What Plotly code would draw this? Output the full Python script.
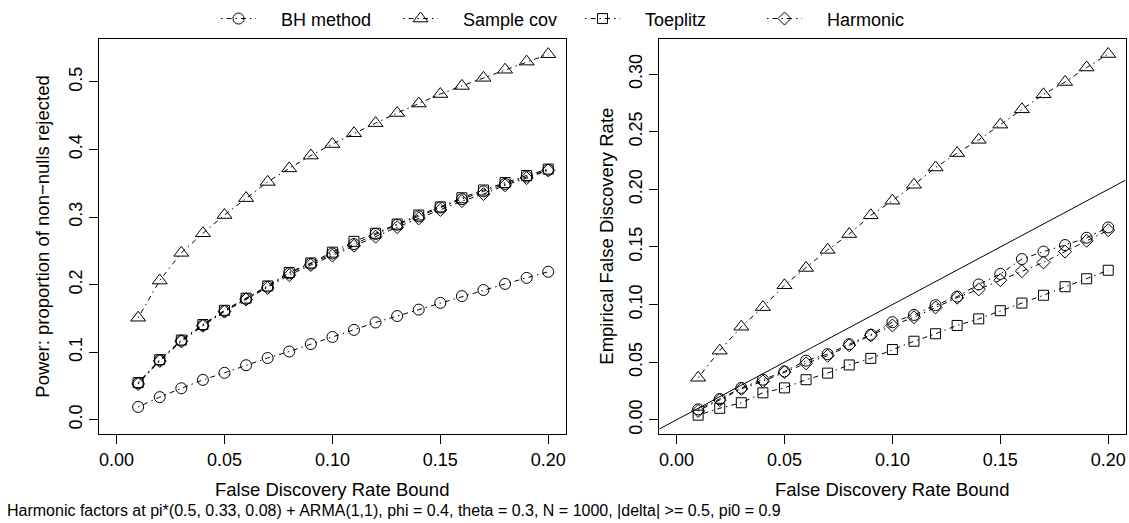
import plotly.graph_objects as go

# ---- data ----
fdr_bound = [0.01, 0.02, 0.03, 0.04, 0.05, 0.06, 0.07, 0.08, 0.09, 0.10,
             0.11, 0.12, 0.13, 0.14, 0.15, 0.16, 0.17, 0.18, 0.19, 0.20]

# Left panel: power
power_bh = [0.019, 0.0335, 0.0466, 0.059, 0.0695, 0.0807, 0.0914, 0.101, 0.112, 0.1225,
            0.133, 0.144, 0.1535, 0.163, 0.173, 0.183, 0.192, 0.201, 0.210, 0.219]
power_bh2 = [0.054, 0.088, 0.117, 0.140, 0.161, 0.179, 0.197, 0.2167, 0.231, 0.246,
             0.260, 0.275, 0.2886, 0.301, 0.314, 0.3265, 0.338, 0.349, 0.360, 0.370]
power_sample = [0.151, 0.206, 0.247, 0.276, 0.303, 0.328, 0.352, 0.372, 0.391, 0.408,
                0.424, 0.439, 0.454, 0.468, 0.482, 0.494, 0.506, 0.518, 0.530, 0.541]
power_toeplitz = [0.055, 0.089, 0.118, 0.141, 0.162, 0.180, 0.198, 0.218, 0.232, 0.248,
                  0.264, 0.276, 0.2896, 0.303, 0.315, 0.3285, 0.340, 0.351, 0.3615, 0.371]
power_harmonic = [0.053, 0.087, 0.116, 0.139, 0.160, 0.178, 0.195, 0.214, 0.229, 0.243,
                  0.2575, 0.271, 0.285, 0.298, 0.3105, 0.3236, 0.334, 0.347, 0.3576, 0.369]

# Right panel: empirical FDR
fdr_bh = [0.0091, 0.018, 0.0277, 0.0348, 0.042, 0.0513, 0.057, 0.0656, 0.0739, 0.0847,
          0.091, 0.0995, 0.107, 0.1175, 0.1266, 0.1395, 0.146, 0.1517, 0.158, 0.167]
fdr_sample = [0.0365, 0.0600, 0.0808, 0.0978, 0.1168, 0.1318, 0.1475, 0.1612, 0.1775, 0.1902,
              0.2040, 0.2190, 0.2315, 0.2430, 0.2562, 0.2695, 0.2825, 0.2932, 0.3058, 0.3175]
fdr_toeplitz = [0.004, 0.010, 0.0148, 0.0234, 0.0277, 0.0348, 0.0405, 0.0476, 0.0533, 0.061,
                0.0682, 0.0747, 0.0819, 0.0876, 0.0947, 0.1013, 0.1081, 0.1155, 0.1224, 0.1298]
fdr_harmonic = [0.0077, 0.0171, 0.0268, 0.0334, 0.0414, 0.049, 0.0556, 0.0647, 0.0733, 0.0819,
                0.089, 0.0975, 0.106, 0.1132, 0.1212, 0.129, 0.1366, 0.146, 0.1554, 0.1646]

series_names = ["BH method", "Sample cov", "Toeplitz", "Harmonic"]
x_ticks = [0.00, 0.05, 0.10, 0.15, 0.20]
left_y_ticks = [0.0, 0.1, 0.2, 0.3, 0.4, 0.5]
right_y_ticks = [0.00, 0.05, 0.10, 0.15, 0.20, 0.25, 0.30]
caption = ("Harmonic factors at pi*(0.5, 0.33, 0.08) + ARMA(1,1), phi = 0.4, "
           "theta = 0.3, N = 1000, |delta| >= 0.5, pi0 = 0.9")

# ---- style ----
FONT = "Liberation Sans, Arial, Helvetica, sans-serif"
FS_TICK = 18
FS_TITLE = 18.5
FS_LEG = 18
FS_CAP = 16
W, H = 1129, 523
DASH = "1.5px,4px,5px,4px"
LEG_PAD = "\u00a0" * 4  # gap between legend sample and its label
sym = {"BH method": ("circle-open", 11),
       "Sample cov": ("triangle-up-open", 13),
       "Toeplitz": ("square-open", 10),
       "Harmonic": ("diamond-open", 10)}

xrange = [-0.008, 0.208]
left_yrange = [-0.0217, 0.5636]
right_yrange = [-0.0127, 0.3306]

fig = go.Figure()


def add(xs, ys, name, xa, ya, show):
    s, sz = sym[name]
    fig.add_trace(go.Scatter(
        x=xs, y=ys, mode="lines+markers", name=LEG_PAD + name, legendgroup=name,
        showlegend=show, xaxis=xa, yaxis=ya,
        line=dict(color="black", width=1, dash=DASH),
        marker=dict(symbol=s, size=sz, color="black", line=dict(color="black", width=1)),
        hoverinfo="x+y+name"))


left = {"BH method": power_bh, "Sample cov": power_sample,
        "Toeplitz": power_toeplitz, "Harmonic": power_harmonic}
right = {"BH method": fdr_bh, "Sample cov": fdr_sample,
         "Toeplitz": fdr_toeplitz, "Harmonic": fdr_harmonic}
for n in series_names:
    add(fdr_bound, left[n], n, "x", "y", True)
add(fdr_bound, power_bh2, "BH method", "x", "y", False)
for n in series_names:
    add(fdr_bound, right[n], n, "x2", "y2", False)

# reference line y = x
fig.add_shape(type="line", xref="x2", yref="y2",
              x0=xrange[0], y0=xrange[0], x1=xrange[1], y1=xrange[1],
              line=dict(color="black", width=1))

ydom = [(H - 433.4) / H, (H - 33.3) / H]
xdom1 = [99.3 / W, 565.5 / W]
xdom2 = [659.3 / W, 1125.5 / W]

common_x = dict(range=xrange, tickvals=x_ticks, ticktext=[f"{v:.2f}" for v in x_ticks],
                showline=True, mirror=True, linecolor="black", linewidth=1,
                ticks="outside", ticklen=9, tickcolor="black", tickwidth=1,
                showgrid=False, zeroline=False, tickfont=dict(size=FS_TICK, color="black"))
common_y = dict(showline=True, mirror=True, linecolor="black", linewidth=1,
                ticks="outside", ticklen=9, tickcolor="black", tickwidth=1,
                showgrid=False, zeroline=False, tickangle=-90,
                tickfont=dict(size=FS_TICK, color="black"))

fig.update_layout(
    width=W, height=H,
    margin=dict(l=0, r=0, t=0, b=0),
    paper_bgcolor="white", plot_bgcolor="white",
    font=dict(family=FONT, size=FS_TICK, color="black"),
    xaxis=dict(domain=xdom1, anchor="y", **common_x),
    yaxis=dict(domain=ydom, anchor="x", range=left_yrange, tickvals=left_y_ticks,
               ticktext=[f"{v:.1f}" for v in left_y_ticks], **common_y),
    xaxis2=dict(domain=xdom2, anchor="y2", **common_x),
    yaxis2=dict(domain=ydom, anchor="x2", range=right_yrange, tickvals=right_y_ticks,
                ticktext=[f"{v:.2f}" for v in right_y_ticks], **common_y),
    legend=dict(orientation="h", x=216 / W, xanchor="left", y=(H - 13) / H,
                yanchor="middle", entrywidth=132, entrywidthmode="pixels",
                font=dict(size=FS_LEG, color="black"), bgcolor="rgba(0,0,0,0)",
                itemwidth=35, traceorder="normal"),
    showlegend=True,
)

ann = [
    dict(text="False Discovery Rate Bound", x=(xdom1[0] + xdom1[1]) / 2, y=(H - 489) / H),
    dict(text="False Discovery Rate Bound", x=(xdom2[0] + xdom2[1]) / 2, y=(H - 489) / H),
    dict(text="Power: proportion of non\u2212nulls rejected", x=43 / W,
         y=(ydom[0] + ydom[1]) / 2, textangle=-90),
    dict(text="Empirical False Discovery Rate", x=607 / W,
         y=(ydom[0] + ydom[1]) / 2, textangle=-90),
]
for a in ann:
    fig.add_annotation(xref="paper", yref="paper", showarrow=False,
                       xanchor="center", yanchor="middle",
                       font=dict(size=FS_TITLE, color="black"), **a)
fig.add_annotation(text=caption, xref="paper", yref="paper", x=5 / W, y=(H - 510) / H,
                   xanchor="left", yanchor="middle", showarrow=False,
                   font=dict(size=FS_CAP, color="black"))

fig.write_html("out.html")
